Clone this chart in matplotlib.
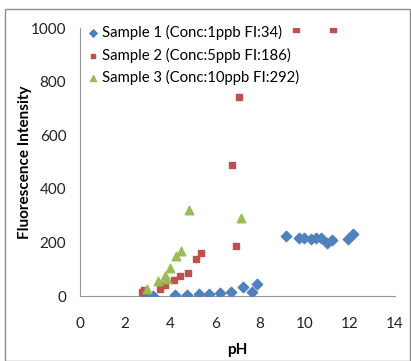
import matplotlib.pyplot as plt
from matplotlib.patches import Rectangle

# Sample 1 (Conc:1ppb)
ph1 = [2.89, 3.26, 4.24, 4.77, 5.30, 5.72, 6.22, 6.71, 7.26, 7.66, 7.85,
       9.14, 9.75, 9.96, 10.25, 10.47, 10.70, 10.99, 11.18, 11.93, 12.15]
fi1 = [0, 0, 4, 4, 8, 8, 11, 16, 35, 16, 44,
       225, 215, 215, 213, 215, 215, 197, 209, 212, 231]

# Sample 2 (Conc:5ppb)
ph2 = [2.74, 2.84, 3.56, 3.76, 4.16, 4.46, 4.80, 5.17, 5.36, 6.93, 6.76, 7.08, 9.59, 11.24]
fi2 = [15, 22, 26, 43, 58, 76, 87, 137, 159, 186, 489, 744, 995, 997]

# Sample 3 (Conc:10ppb)
ph3 = [2.99, 3.48, 3.79, 3.85, 4.00, 4.25, 4.49, 4.86, 7.16]
fi3 = [26, 56, 75, 62, 106, 149, 168, 322, 292]

labels = ["Sample 1 (Conc:1ppb FI:34)",
          "Sample 2 (Conc:5ppb FI:186)",
          "Sample 3 (Conc:10ppb FI:292)"]

plt.rcParams['font.family'] = ['Lato', 'DejaVu Sans']

fig = plt.figure(figsize=(4.11, 3.61), dpi=100)
ax = fig.add_axes([0.195, 0.18, 0.766, 0.742])

ax.scatter(ph1, fi1, marker="D", s=28, color="#4F81BD", label=labels[0], zorder=3)
ax.scatter(ph2, fi2, marker="s", s=24, color="#C0504D", label=labels[1], zorder=3)
ax.scatter(ph3, fi3, marker="^", s=38, color="#9BBB59", label=labels[2], zorder=3)

ax.set_xlim(0, 14)
ax.set_ylim(0, 1000)
ax.set_xticks(range(0, 15, 2))
ax.set_yticks(range(0, 1001, 200))
ax.tick_params(length=0, labelsize=11, colors="#222222")
ax.tick_params(axis="x", pad=15)
ax.tick_params(axis="y", pad=10)
for s in ["top", "right"]:
    ax.spines[s].set_visible(False)
for s in ["left", "bottom"]:
    ax.spines[s].set_color("#969696")
ax.set_xlabel("pH", fontweight="bold", fontsize=11, labelpad=9)
ax.set_ylabel("Fluorescence Intensity", fontweight="bold", fontsize=11, labelpad=-1)

ax.legend(loc="upper left", bbox_to_anchor=(-0.01, 1.045), frameon=False, fontsize=10.7,
          handletextpad=0.1, handlelength=1.0, labelspacing=0.5, borderaxespad=0.2,
          markerscale=0.7)

fig.patches.append(Rectangle((0.012, 0.0), 0.985, 0.975, transform=fig.transFigure,
                             fill=False, edgecolor="#8c8c8c", linewidth=1))

fig.savefig("out.png", dpi=100)
